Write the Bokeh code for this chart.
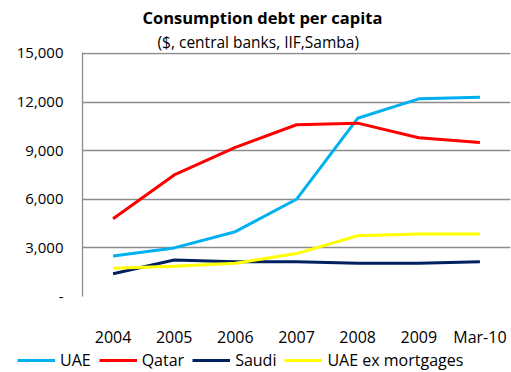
from bokeh.plotting import figure
from bokeh.layouts import column
from bokeh.models import Legend, LegendItem, FixedTicker, NumeralTickFormatter, Range1d, Title
from bokeh.embed import file_html
from bokeh.resources import INLINE

categories = ["2004", "2005", "2006", "2007", "2008", "2009", "Mar-10"]
uae = [2500, 3000, 4000, 6000, 11000, 12200, 12300]
qatar = [4800, 7500, 9200, 10600, 10700, 9800, 9500]
saudi = [1400, 2250, 2150, 2150, 2050, 2050, 2150]
uae_ex = [1750, 1870, 2050, 2650, 3750, 3850, 3850]
y_ticks = [0, 3000, 6000, 9000, 12000, 15000]
series_names = ["UAE", "Qatar", "Saudi", "UAE ex mortgages"]
series_colors = ["#00B0F0", "#FF0000", "#002060", "#FFFF00"]

FONT = "Open Sans"
x = list(range(len(categories)))
series_values = [uae, qatar, saudi, uae_ex]

p = figure(width=511, height=350, output_backend="svg", toolbar_location=None, title=None,
           x_range=Range1d(-0.5, len(categories) - 0.5), y_range=Range1d(0, 15060),
           min_border_left=82, min_border_right=1, min_border_top=52, min_border_bottom=51)
p.frame_align = False
p.outline_line_color = None
p.background_fill_color = "white"
p.border_fill_color = "white"

p.xgrid.grid_line_color = None
p.ygrid.grid_line_color = "#8c8c8c"
p.ygrid.grid_line_width = 1.3
p.ygrid.ticker = FixedTicker(ticks=y_ticks)

p.yaxis.ticker = FixedTicker(ticks=y_ticks)
p.yaxis.formatter = NumeralTickFormatter(format="0,0")
p.yaxis.major_label_overrides = {0: "-"}
p.yaxis.axis_line_color = "#8c8c8c"
p.yaxis.axis_line_width = 1.3
p.yaxis.major_tick_line_color = None
p.yaxis.minor_tick_line_color = None
p.yaxis.major_label_standoff = 13
p.yaxis.major_label_text_font = FONT
p.yaxis.major_label_text_font_size = "15px"
p.yaxis.major_label_text_color = "black"

p.xaxis.ticker = FixedTicker(ticks=x)
p.xaxis.major_label_overrides = {i: c for i, c in enumerate(categories)}
p.xaxis.axis_line_color = None
p.xaxis.major_tick_line_color = None
p.xaxis.minor_tick_line_color = None
p.xaxis.major_label_standoff = 23
p.xaxis.major_label_text_font = FONT
p.xaxis.major_label_text_font_size = "16px"
p.xaxis.major_label_text_color = "black"

for vals, col in zip(series_values, series_colors):
    p.line(x, vals, line_color=col, line_width=3)

p.add_layout(Title(text="($, central banks, IIF,Samba)", align="left", offset=75,
                   text_font=FONT, text_font_size="15.5px", text_font_style="normal",
                   text_color="black", standoff=0), "above")
p.add_layout(Title(text="Consumption debt per capita", align="left", offset=60,
                   text_font=FONT, text_font_size="16.5px", text_font_style="bold",
                   text_color="black", standoff=0), "above")

# legend strip underneath the chart; its series sit outside its (empty) view
lg = figure(width=511, height=22, output_backend="svg", toolbar_location=None, title=None,
            x_range=Range1d(-0.5, len(categories) - 0.5), y_range=Range1d(-2, -1),
            min_border_left=0, min_border_right=0, min_border_top=0, min_border_bottom=0)
lg.frame_align = False
lg.axis.visible = False
lg.grid.visible = False
lg.outline_line_color = None
lg.border_fill_color = "white"
lg.background_fill_color = "white"
items = []
for name, vals, col in zip(series_names, series_values, series_colors):
    r = lg.line(x, vals, line_color=col, line_width=3)
    items.append(LegendItem(label=name, renderers=[r]))
legend = Legend(items=items, orientation="horizontal", location=(17, 1),
                glyph_width=38, glyph_height=16, label_standoff=5, spacing=8,
                label_text_font=FONT, label_text_font_size="16px", label_text_color="black",
                background_fill_alpha=0, border_line_color=None, padding=0, margin=0)
lg.add_layout(legend, "center")

layout = column(p, lg, spacing=0)
open("out.html", "w").write(file_html(layout, INLINE))
